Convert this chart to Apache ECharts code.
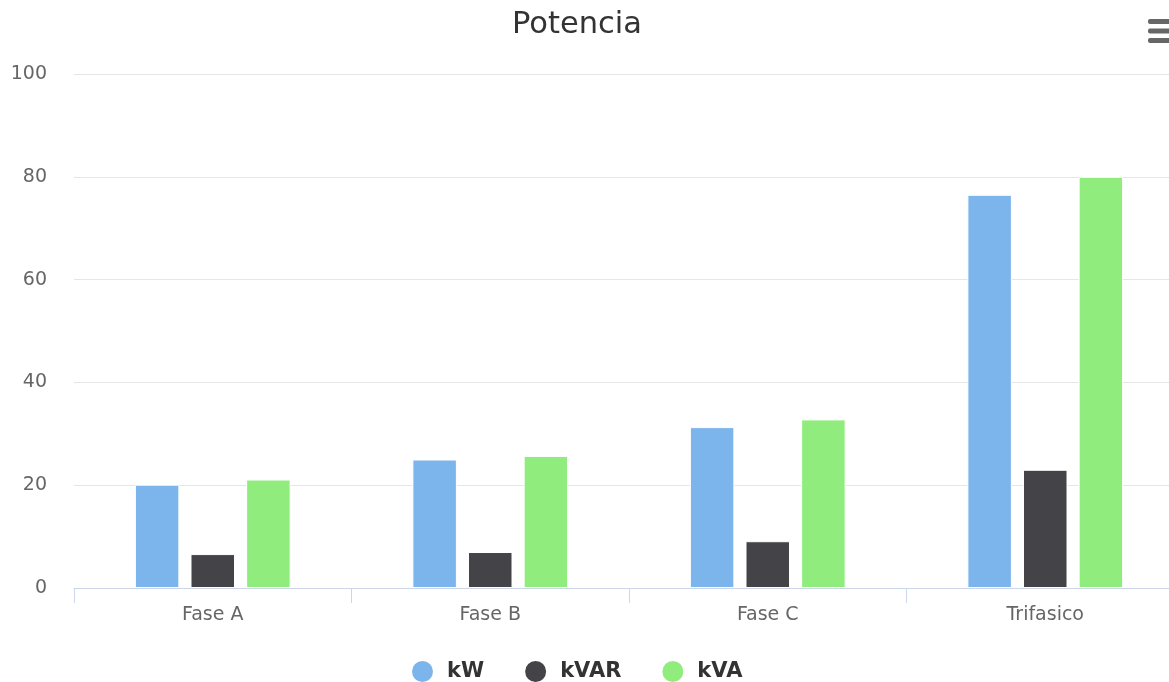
<!DOCTYPE html>
<html>
<head>
<meta charset="utf-8">
<script src="https://cdn.jsdelivr.net/npm/echarts@6/dist/echarts.min.js"></script>
<style>
  html, body { margin: 0; padding: 0; background: #fff; }
  #chart { width: 1169px; height: 682px; }
</style>
</head>
<body>
<div id="chart"></div>
<script>
// Power per phase
const categories = ['Fase A', 'Fase B', 'Fase C', 'Trifasico'];
const seriesNames = ['kW', 'kVAR', 'kVA'];
const kW   = [20.1, 25.0, 31.3, 76.5];
const kVAR = [6.6, 7.0, 9.1, 23.0];
const kVA  = [21.1, 25.7, 32.8, 80.0];
const yTicks = [0, 20, 40, 60, 80, 100];

const colors = ['#7cb5ec', '#434348', '#90ed7d'];
const font = 'DejaVu Sans, Verdana, sans-serif';

const chart = echarts.init(document.getElementById('chart'), null, { renderer: 'canvas' });

const values = [kW, kVAR, kVA];

chart.setOption({
  backgroundColor: '#ffffff',
  animation: false,
  color: colors,
  title: {
    text: 'Potencia',
    left: 572,
    top: 5,
    textAlign: 'center',
    textStyle: { fontFamily: font, fontSize: 30.5, fontWeight: 'normal', color: '#333333' }
  },
  legend: {
    data: seriesNames,
    top: 659,
    left: 410,
    padding: 0,
    icon: 'circle',
    itemWidth: 23,
    itemHeight: 23,
    itemGap: 39,
    textStyle: { fontFamily: font, fontSize: 21, fontWeight: 'bold', color: '#333333', padding: [0, 0, 0, 8] }
  },
  // plot area runs slightly past the right edge of the canvas
  grid: { left: 74, width: 1110, top: 74, bottom: 94, containLabel: false, outerBoundsMode: 'none' },
  xAxis: {
    type: 'category',
    data: categories,
    axisLine: { lineStyle: { color: '#ccd6eb', width: 1 } },
    axisTick: { show: true, length: 15, alignWithLabel: false, lineStyle: { color: '#ccd6eb' } },
    axisLabel: { fontFamily: font, fontSize: 19, color: '#666666', margin: 18 },
    splitLine: { show: false }
  },
  yAxis: {
    type: 'value',
    min: yTicks[0],
    max: yTicks[yTicks.length - 1],
    interval: yTicks[1] - yTicks[0],
    axisLine: { show: false },
    axisTick: { show: false },
    axisLabel: { fontFamily: font, fontSize: 19, color: '#666666', margin: 27 },
    splitLine: { lineStyle: { color: '#e6e6e6', width: 1 } }
  },
  series: seriesNames.map((name, i) => ({
    name: name,
    type: 'bar',
    data: values[i],
    barWidth: 44.5,
    barGap: '25%',
    itemStyle: { color: colors[i], borderColor: '#ffffff', borderWidth: 1 }
  })),
  graphic: [
    // export menu button (three bars)
    { type: 'rect', left: 1148, top: 19, shape: { width: 30, height: 5, r: 2 }, style: { fill: '#666666' } },
    { type: 'rect', left: 1148, top: 28.5, shape: { width: 30, height: 5, r: 2 }, style: { fill: '#666666' } },
    { type: 'rect', left: 1148, top: 38, shape: { width: 30, height: 5, r: 2 }, style: { fill: '#666666' } }
  ]
});
</script>
</body>
</html>
